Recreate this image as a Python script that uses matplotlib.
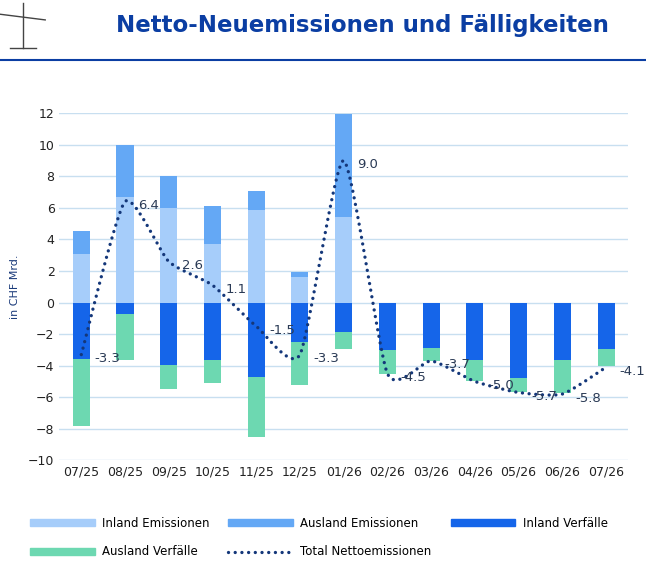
import numpy as np
import matplotlib
matplotlib.use('Agg')
import matplotlib.pyplot as plt
from matplotlib.lines import Line2D

months = ['07/25', '08/25', '09/25', '10/25', '11/25', '12/25', '01/26',
          '02/26', '03/26', '04/26', '05/26', '06/26', '07/26']
inland_em = [3.1, 6.7, 6.0, 3.7, 5.85, 1.65, 5.4, 0, 0, 0, 0, 0, 0]
ausland_em = [1.45, 3.3, 2.05, 2.45, 1.25, 0.3, 6.55, 0, 0, 0, 0, 0, 0]
inland_vf = [-3.6, -0.7, -3.95, -3.65, -4.75, -2.5, -1.85, -3.0, -2.9, -3.65, -4.8, -3.65, -2.95]
ausland_vf = [-4.25, -2.95, -1.55, -1.45, -3.8, -2.75, -1.1, -1.5, -0.8, -1.3, -0.85, -2.1, -1.1]
total = [-3.3, 6.4, 2.6, 1.1, -1.5, -3.3, 9.0, -4.5, -3.7, -5.0, -5.7, -5.8, -4.1]

c_ie = '#a6cdfa'
c_ae = '#64a8f5'
c_iv = '#1565e9'
c_av = '#6dd8b1'
c_line = '#14377a'
c_title = '#0b3ea3'

fig = plt.figure(figsize=(6.46, 5.69), dpi=100)
ax = fig.add_axes([0.092, 0.191, 0.88, 0.61])

x = np.arange(len(months))
w = 0.39
ie = np.array(inland_em)
iv = np.array(inland_vf)
ax.bar(x, ie, w, color=c_ie, zorder=2)
ax.bar(x, ausland_em, w, bottom=ie, color=c_ae, zorder=2)
ax.bar(x, iv, w, color=c_iv, zorder=2)
ax.bar(x, ausland_vf, w, bottom=iv, color=c_av, zorder=2)

# smooth curve through the points (cardinal spline, low tension)
t = np.array(total, dtype=float)
pts = np.column_stack([x, t])
p = np.vstack([pts[0], pts, pts[-1]])
k = 0.3
sx, sy = [], []
for i in range(1, len(p) - 2):
    s = np.linspace(0, 1, 24, endpoint=False)[:, None]
    p0, p1, p2, p3 = p[i - 1], p[i], p[i + 1], p[i + 2]
    m1 = k * (p2 - p0)
    m2 = k * (p3 - p1)
    h00 = 2 * s**3 - 3 * s**2 + 1
    h10 = s**3 - 2 * s**2 + s
    h01 = -2 * s**3 + 3 * s**2
    h11 = s**3 - s**2
    seg = h00 * p1 + h10 * m1 + h01 * p2 + h11 * m2
    sx.extend(seg[:, 0]); sy.extend(seg[:, 1])
sx.append(x[-1]); sy.append(t[-1])
ax.plot(sx, sy, color=c_line, lw=2.4, ls=(0, (0.01, 2.0)), dash_capstyle='round', zorder=3)
for xi, v in zip(x, total):
    ax.text(xi + 0.3, v - 0.25, f'{v:.1f}', fontsize=9.5, color='#2a3a55',
            va='center', ha='left', zorder=4)

ax.set_xlim(-0.5, 12.5)
ax.set_ylim(-10, 12)
ax.set_yticks(range(-10, 13, 2))
ax.set_xticks(x)
ax.set_xticklabels(months)
ax.tick_params(length=0, labelsize=9, colors='#222222')
ax.grid(axis='y', color='#c8dff0', lw=1, zorder=0)
for s in ax.spines.values():
    s.set_visible(False)
ax.set_ylabel('in CHF Mrd.', fontsize=8, color='#1a3a7a', labelpad=6)

handles = [
    plt.Rectangle((0, 0), 1, 1, color=c_ie),
    plt.Rectangle((0, 0), 1, 1, color=c_av),
    plt.Rectangle((0, 0), 1, 1, color=c_ae),
    Line2D([0], [0], color=c_line, lw=2.4, ls=(0, (0.01, 2.0)), dash_capstyle='round'),
    plt.Rectangle((0, 0), 1, 1, color=c_iv),
]
labels = ['Inland Emissionen', 'Ausland Verfälle', 'Ausland Emissionen',
          'Total Nettoemissionen', 'Inland Verfälle']
fig.legend(handles, labels, loc='lower left', bbox_to_anchor=(0.03, 0.0), ncol=3,
           frameon=False, fontsize=8.5, handlelength=5.5, handleheight=0.5,
           handletextpad=0.6, columnspacing=1.6, labelspacing=1.3)

fig.text(0.18, 0.955, 'Netto-Neuemissionen und Fälligkeiten', fontsize=16.5,
         fontweight='bold', color=c_title, va='center')
fig.add_artist(Line2D([0, 1], [0.895, 0.895], color=c_title, lw=1.5))
# simple scale icon
fig.add_artist(Line2D([0.035, 0.035], [0.915, 0.995], color='#444444', lw=1))
fig.add_artist(Line2D([0.0, 0.07], [0.975, 0.965], color='#444444', lw=1))
fig.add_artist(Line2D([0.015, 0.055], [0.915, 0.915], color='#444444', lw=1))

fig.savefig('out.png', dpi=100)
